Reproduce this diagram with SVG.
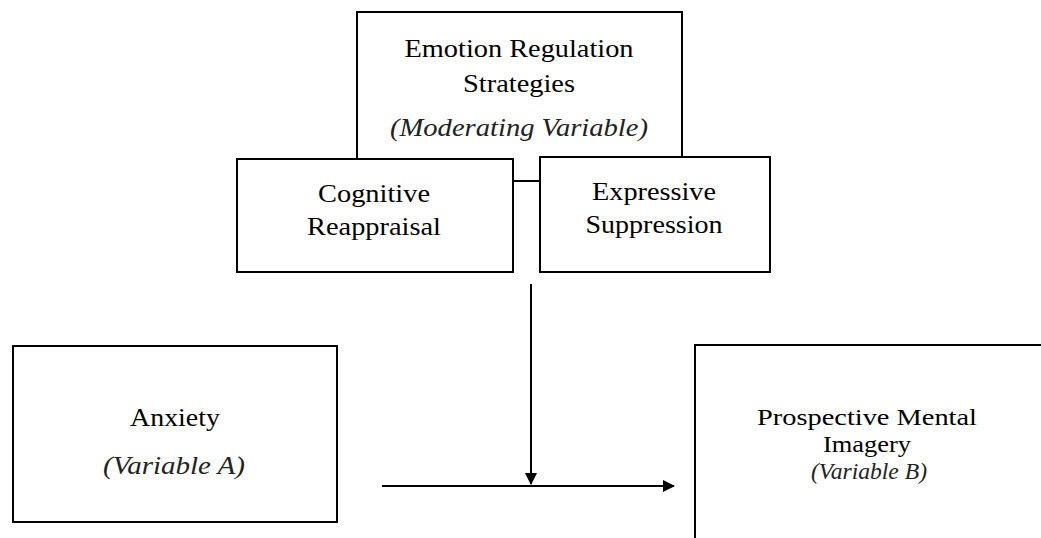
<svg xmlns="http://www.w3.org/2000/svg" width="1041" height="538" viewBox="0 0 1041 538">
<style>
.box{fill:#fff;stroke:#000;stroke-width:2}
.t{font-family:"Liberation Serif","Times New Roman",Tinos,"DejaVu Serif",serif;font-size:26px;fill:#000;text-anchor:middle}
.s{font-size:24px}
.i{font-style:italic;fill:#222}
.ln{stroke:#000;stroke-width:2;fill:none}
</style>
<defs>
<marker id="ah" markerWidth="12" markerHeight="12" refX="11" refY="6" orient="auto" markerUnits="userSpaceOnUse" viewBox="0 0 12 12">
<path d="M0,0 L12,6 L0,12 Z" fill="#000"/>
</marker>
</defs>
<g id="node-emotion">
<path class="box" d="M357,159 L357,12 L682,12 L682,157"/>
<text class="t" x="519" y="57" textLength="229" lengthAdjust="spacingAndGlyphs">Emotion Regulation</text>
<text class="t" x="519" y="92" textLength="112" lengthAdjust="spacingAndGlyphs">Strategies</text>
<text class="t i" x="519" y="136" textLength="258" lengthAdjust="spacingAndGlyphs">(Moderating Variable)</text>
</g>
<g id="connectors">
<line class="ln" x1="513" y1="181" x2="540" y2="181"/>
<line class="ln" x1="531" y1="284" x2="531" y2="484" marker-end="url(#ah)"/>
<line class="ln" x1="382" y1="486" x2="674" y2="486" marker-end="url(#ah)"/>
</g>
<g id="node-cognitive">
<rect class="box" x="237" y="159" width="276" height="113"/>
<text class="t" x="374" y="202" textLength="112" lengthAdjust="spacingAndGlyphs">Cognitive</text>
<text class="t" x="374" y="235" textLength="134" lengthAdjust="spacingAndGlyphs">Reappraisal</text>
</g>
<g id="node-expressive">
<rect class="box" x="540" y="157" width="230" height="115"/>
<text class="t" x="654" y="200" textLength="124" lengthAdjust="spacingAndGlyphs">Expressive</text>
<text class="t" x="654" y="233" textLength="137" lengthAdjust="spacingAndGlyphs">Suppression</text>
</g>
<g id="node-anxiety">
<rect class="box" x="13" y="346" width="324" height="176"/>
<text class="t" x="175" y="426" textLength="90" lengthAdjust="spacingAndGlyphs">Anxiety</text>
<text class="t i" x="174" y="474" textLength="142" lengthAdjust="spacingAndGlyphs">(Variable A)</text>
</g>
<g id="node-prospective">
<rect class="box" x="695" y="345" width="400" height="250"/>
<text class="t s" x="867" y="425" textLength="220" lengthAdjust="spacingAndGlyphs">Prospective Mental</text>
<text class="t s" x="867" y="452" textLength="88" lengthAdjust="spacingAndGlyphs">Imagery</text>
<text class="t s i" x="869" y="479" textLength="116" lengthAdjust="spacingAndGlyphs">(Variable B)</text>
</g>
</svg>
